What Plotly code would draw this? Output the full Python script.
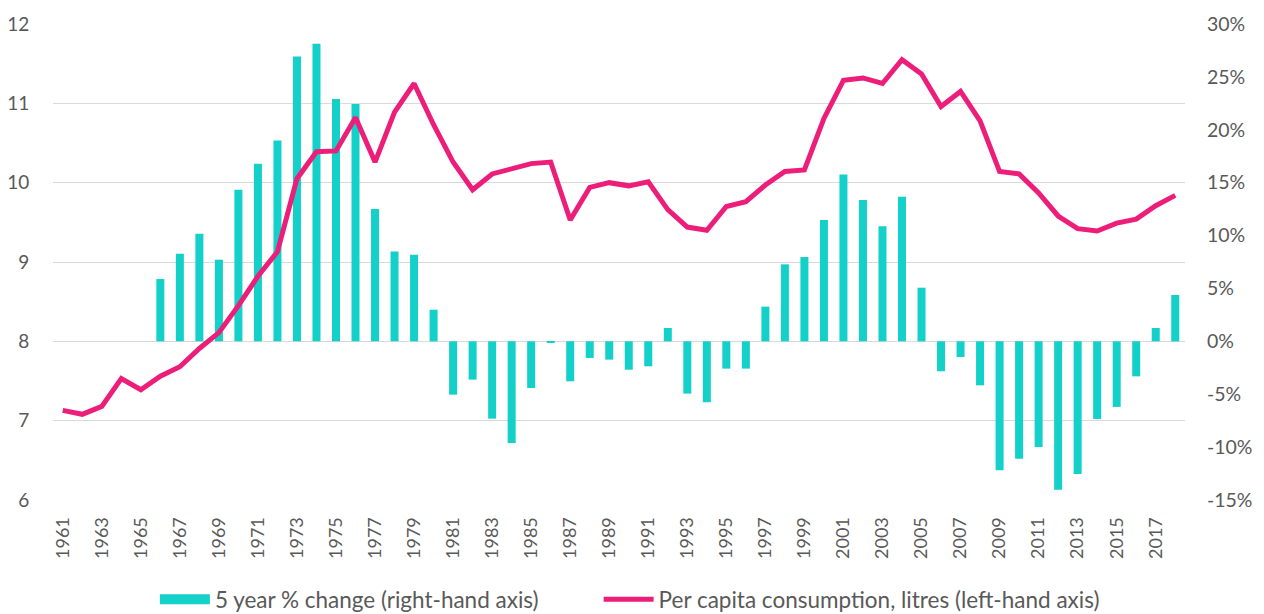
import plotly.graph_objects as go

years = list(range(1961, 2019))
per_capita = [7.13, 7.08, 7.18, 7.53, 7.39, 7.56, 7.68, 7.91, 8.11, 8.45,
              8.82, 9.13, 10.05, 10.39, 10.40, 10.82, 10.26, 10.89, 11.25, 10.73,
              10.26, 9.91, 10.11, 10.17, 10.24, 10.26, 9.53, 9.94, 10.00, 9.96,
              10.01, 9.66, 9.44, 9.40, 9.70, 9.76, 9.97, 10.14, 10.16, 10.81,
              11.29, 11.32, 11.25, 11.55, 11.37, 10.96, 11.15, 10.78, 10.14, 10.11,
              9.87, 9.58, 9.42, 9.39, 9.49, 9.54, 9.71, 9.84]

bar_years = list(range(1966, 2019))
five_year_change = [5.89, 8.28, 10.17, 7.72, 14.33, 16.79, 18.99, 26.93, 28.13, 22.90,
                    22.43, 12.50, 8.50, 8.19, 2.99, -5.04, -3.62, -7.31, -9.61, -4.41,
                    -0.10, -3.78, -1.57, -1.73, -2.68, -2.36, 1.26, -4.94, -5.76, -2.58,
                    -2.58, 3.28, 7.28, 7.97, 11.46, 15.78, 13.35, 10.87, 13.67, 5.07,
                    -2.83, -1.48, -4.16, -12.19, -11.09, -9.98, -14.02, -12.54, -7.34, -6.20,
                    -3.31, 1.26, 4.38]

tick_years = list(range(1961, 2018, 2))
left_ticks = [6, 7, 8, 9, 10, 11, 12]
right_ticks = [-15, -10, -5, 0, 5, 10, 15, 20, 25, 30]
right_labels = ["-15%", "-10%", "-5%", "0%", "5%", "10%", "15%", "20%", "25%", "30%"]

bar_name = "5 year % change (right-hand axis)"
line_name = "Per capita consumption, litres (left-hand axis)"

font_family = "Lato, 'Open Sans', sans-serif"
grey = "#595959"
teal = "#13D0C8"
pink = "#EC1E79"
clear = "rgba(0,0,0,0)"

fig = go.Figure()
# bars on the primary (percent, right-hand) axis
fig.add_trace(go.Bar(x=bar_years, y=five_year_change, name=bar_name, yaxis="y",
                     marker=dict(color=teal, line=dict(width=0)), width=0.41,
                     showlegend=False))
# legend swatch for the bars
fig.add_trace(go.Scatter(x=[None], y=[None], name=bar_name, mode="lines", yaxis="y",
                         line=dict(color=teal, width=13), legend="legend"))
# line on the overlaying (litres, left-hand) axis, drawn above the bars
fig.add_trace(go.Scatter(x=years, y=per_capita, name=line_name, mode="lines", yaxis="y2",
                         line=dict(color=pink, width=5), legend="legend2"))

legend_style = dict(orientation="h", xanchor="left", y=-0.164, yanchor="top",
                    font=dict(size=22.5, color=grey), itemwidth=50,
                    bgcolor="rgba(0,0,0,0)")

# the page body adds an 8px margin, so the figure is sized to fit the window
fig.update_layout(
    width=1256, height=606,
    margin=dict(l=45, r=79, t=16, b=114, autoexpand=False),
    plot_bgcolor="white", paper_bgcolor="white",
    font=dict(family=font_family, color=grey, size=18),
    showlegend=True,
    legend=dict(x=0.090, **legend_style),
    legend2=dict(x=0.482, **legend_style),
    xaxis=dict(range=[1960.5, 2018.5], tickmode="array", tickvals=tick_years,
               ticktext=[str(y) for y in tick_years], tickangle=-90,
               showgrid=False, showline=False, zeroline=False,
               ticks="outside", ticklen=9, tickcolor=clear, automargin=False,
               tickfont=dict(size=18, color=grey)),
    yaxis=dict(range=[-15, 30], tickmode="array", tickvals=right_ticks, ticktext=right_labels,
               side="right", showgrid=False, zeroline=False, showline=False,
               ticks="outside", ticklen=17, tickcolor=clear, automargin=False,
               tickfont=dict(size=19.5, color=grey)),
    yaxis2=dict(range=[6, 12], tickmode="array", tickvals=left_ticks,
                overlaying="y", side="left", showgrid=True,
                gridcolor="#D9D9D9", gridwidth=1.3,
                zeroline=False, showline=False,
                ticks="outside", ticklen=19, tickcolor=clear, automargin=False,
                tickfont=dict(size=19, color=grey)),
)
fig.write_html("out.html")
